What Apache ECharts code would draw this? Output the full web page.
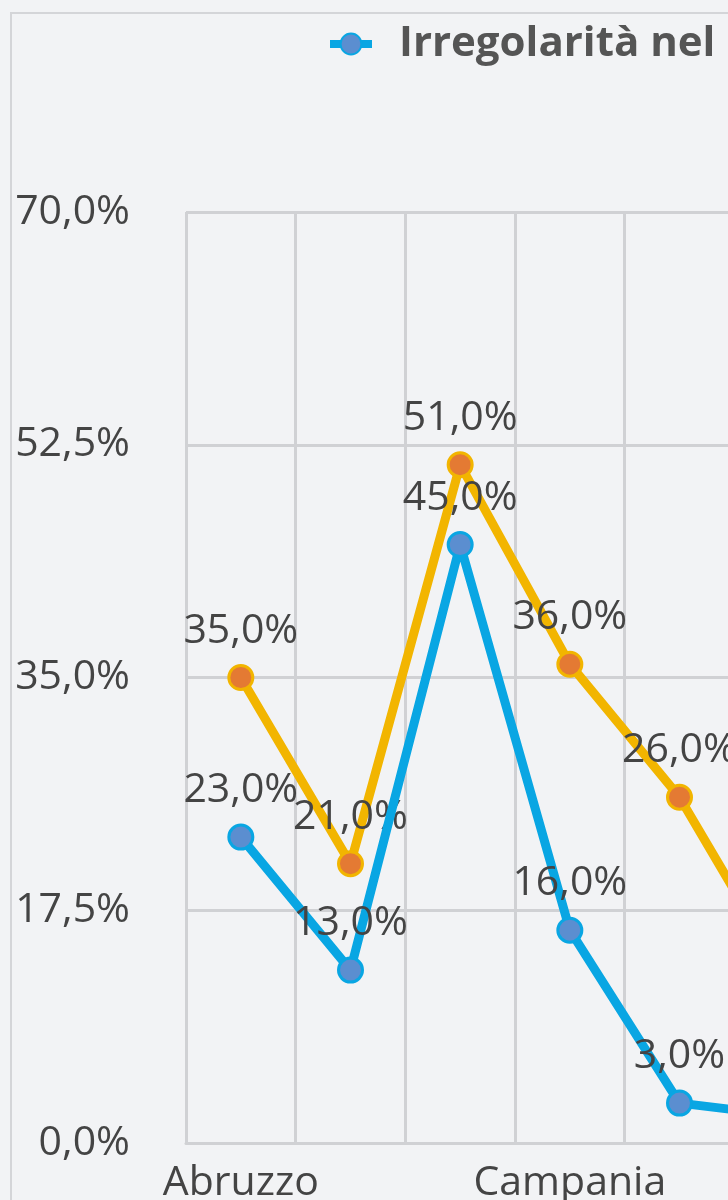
<!DOCTYPE html>
<html>
<head>
<meta charset="utf-8">
<script src="https://cdn.jsdelivr.net/npm/echarts@6/dist/echarts.min.js"></script>
<style>
html,body{margin:0;padding:0;background:#f2f3f5;overflow:hidden;width:728px;height:1200px;}
#chart{width:860px;height:1200px;}
</style>
</head>
<body>
<div id="chart"></div>
<script>
const categories = ['Abruzzo','Basilicata','Calabria','Campania','Emilia-Romagna','Friuli-Venezia Giulia'];
const seriesBlueName = 'Irregolarità nel';
const seriesBlue = [23, 13, 45, 16, 3, 2];
const seriesOrangeName = 'Serie 2';
const seriesOrange = [35, 21, 51, 36, 26, 12];
const yTicks = [0, 17.5, 35, 52.5, 70];

const fmt = v => v.toFixed(1).replace('.', ',') + '%';
const FONT = '"Open Sans", sans-serif';
const chart = echarts.init(document.getElementById('chart'), null, {renderer:'canvas'});
chart.setOption({
  backgroundColor: '#f2f3f5',
  animation: false,
  graphic: [{
    type: 'polyline', silent: true,
    shape: {points: [[11, 1210], [11, 13], [900, 13]]},
    style: {stroke: '#d4d5d8', lineWidth: 2, fill: null}
  }],
  legend: {
    data: [seriesBlueName],
    left: 321, top: 18,
    itemWidth: 42, itemHeight: 26, itemGap: 10,
    lineStyle: {width: 8},
    textStyle: {fontFamily: FONT, fontWeight: 'bold', fontSize: 42, color: '#555555', padding: [0,0,0,22]}
  },
  grid: {left: 186, right: 16, top: 212, bottom: 57, containLabel: false, outerBoundsMode: 'none'},
  xAxis: {
    type: 'category', data: categories, boundaryGap: true,
    axisLine: {show: true, lineStyle: {color: '#d0d1d4', width: 3}},
    axisTick: {show: false},
    splitLine: {show: true, interval: 0, lineStyle: {color: '#d0d1d4', width: 3}},
    axisLabel: {interval: 2, fontFamily: FONT, fontSize: 41, color: '#444444', margin: 20}
  },
  yAxis: {
    type: 'value', min: 0, max: 70, interval: 17.5,
    axisLine: {show: false}, axisTick: {show: false},
    splitLine: {lineStyle: {color: '#d0d1d4', width: 3}},
    axisLabel: {fontFamily: FONT, fontSize: 41, color: '#444444', margin: 56, formatter: v => fmt(v)}
  },
  series: [
    {
      name: seriesOrangeName, type: 'line', data: seriesOrange,
      symbol: 'circle', symbolSize: 24,
      lineStyle: {color: '#f2b500', width: 9},
      itemStyle: {color: '#e47a33', borderColor: '#f2b500', borderWidth: 3},
      label: {show: true, position: 'top', distance: 11, lineHeight: 44, fontFamily: FONT, fontSize: 41, color: '#444444', formatter: p => fmt(p.value)},
      z: 2
    },
    {
      name: seriesBlueName, type: 'line', data: seriesBlue,
      symbol: 'circle', symbolSize: 24,
      lineStyle: {color: '#09a6e3', width: 9},
      itemStyle: {color: '#5b8ed0', borderColor: '#09a6e3', borderWidth: 3},
      label: {show: true, position: 'top', distance: 11, lineHeight: 44, fontFamily: FONT, fontSize: 41, color: '#444444', formatter: p => fmt(p.value)},
      z: 3
    }
  ]
});
</script>
</body>
</html>
